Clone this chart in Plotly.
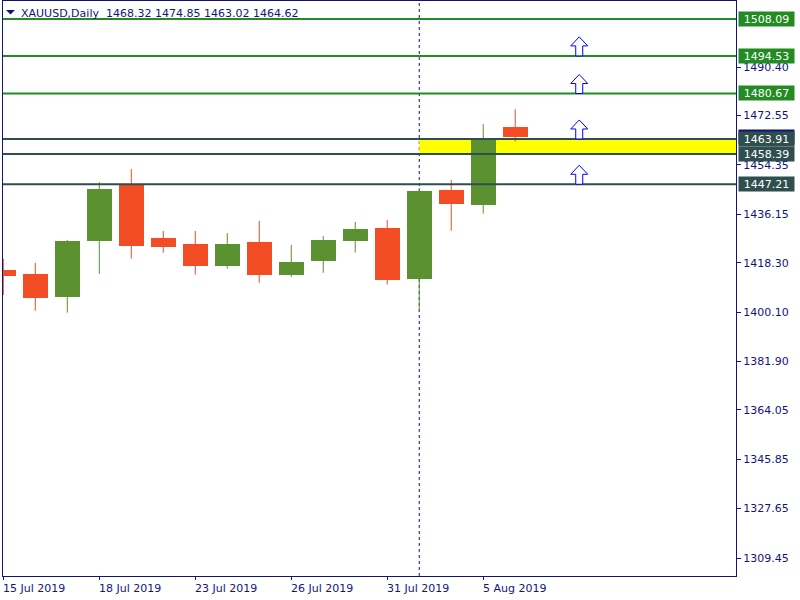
import plotly.graph_objects as go

# ---------------- data ----------------
symbol_title = "XAUUSD,Daily"
header_ohlc = ["1468.32", "1474.85", "1463.02", "1464.62"]

dates = ["15 Jul", "16 Jul", "17 Jul", "18 Jul", "19 Jul", "22 Jul", "23 Jul",
         "24 Jul", "25 Jul", "26 Jul", "29 Jul", "30 Jul", "31 Jul", "1 Aug",
         "2 Aug", "5 Aug", "6 Aug"]
opens = [1415.6, 1414.1, 1405.8, 1426.4, 1446.9, 1427.4, 1425.2, 1417.2, 1425.9,
         1413.9, 1419.0, 1426.4, 1431.1, 1412.4, 1445.1, 1439.7, 1468.32]
highs = [1419.7, 1418.2, 1426.7, 1448.0, 1452.8, 1430.0, 1430.0, 1429.2, 1433.7,
         1424.8, 1428.1, 1433.3, 1434.0, 1445.8, 1448.8, 1469.4, 1474.85]
lows = [1406.4, 1400.6, 1399.9, 1414.2, 1419.8, 1422.0, 1413.9, 1416.1, 1410.9,
        1413.1, 1414.6, 1422.0, 1410.2, 1400.2, 1430.1, 1436.4, 1463.02]
closes = [1413.4, 1405.4, 1426.3, 1445.5, 1424.6, 1424.2, 1417.2, 1425.2, 1413.9,
          1418.5, 1426.7, 1430.7, 1412.0, 1444.7, 1440.0, 1463.6, 1464.62]

x_tick_dates = ["15 Jul 2019", "18 Jul 2019", "23 Jul 2019", "26 Jul 2019",
                "31 Jul 2019", "5 Aug 2019"]
x_tick_bars = ["15 Jul", "18 Jul", "23 Jul", "26 Jul", "31 Jul", "5 Aug"]

y_ticks = [1309.45, 1327.65, 1345.85, 1364.05, 1381.90, 1400.10, 1418.30,
           1436.15, 1454.35, 1472.55, 1490.40]

resistance_levels = [1508.09, 1494.53, 1480.67]
support_levels = [1463.91, 1458.39, 1447.21]
zone_low, zone_high = 1458.39, 1463.91
zone_start = "1 Aug"
vline_date = "1 Aug"
bid_price = 1464.62
arrow_levels = [1494.53, 1480.67, 1463.91, 1447.21]
arrow_bar = 18  # two bars after the last candle

# ---------------- styles ----------------
UP = "#5B9130"
DOWN = "#F34D26"
NAVY = "#141478"
GREEN_LINE = "#228B22"
DARK_LINE = "#2F4F4F"
FONT = "DejaVu Sans"

idx = {d: i for i, d in enumerate(dates)}
xs = list(range(len(dates)))

fig = go.Figure()

# bodies
body_base = [min(o, c) for o, c in zip(opens, closes)]
body_h = [max(abs(c - o), 0.3) for o, c in zip(opens, closes)]
body_col = [UP if c >= o else DOWN for o, c in zip(opens, closes)]
fig.add_trace(go.Bar(x=xs, y=body_h, base=body_base, width=0.78,
                     marker=dict(color=body_col, line=dict(width=0)),
                     hoverinfo="skip", showlegend=False))

# wicks
for col, cond in ((UP, True), (DOWN, False)):
    wx, wy = [], []
    for i, (o, h, l, c) in enumerate(zip(opens, highs, lows, closes)):
        if (c >= o) == cond:
            wx += [i, i, None]
            wy += [l, h, None]
    fig.add_trace(go.Scatter(x=wx, y=wy, mode="lines",
                             line=dict(color=col, width=1),
                             hoverinfo="skip", showlegend=False))

x_max = 22.9
y_min, y_max = 1302.82, 1514.76

shapes = []
# yellow zone
shapes.append(dict(type="rect", xref="x", yref="y", x0=idx[zone_start], x1=x_max,
                   y0=zone_low, y1=zone_high, fillcolor="#FFFF00",
                   line=dict(width=0), layer="below"))
# dashed vertical line
shapes.append(dict(type="line", xref="x", yref="paper", x0=idx[vline_date],
                   x1=idx[vline_date], y0=0, y1=1,
                   line=dict(color=NAVY, width=1, dash="3px,3px"), layer="below"))
# horizontal levels
for lv in resistance_levels:
    shapes.append(dict(type="line", xref="paper", yref="y", x0=0, x1=1, y0=lv, y1=lv,
                       line=dict(color=GREEN_LINE, width=2), layer="above"))
for lv in support_levels:
    shapes.append(dict(type="line", xref="paper", yref="y", x0=0, x1=1, y0=lv, y1=lv,
                       line=dict(color=DARK_LINE, width=2), layer="above"))
# up arrows (pixel-sized, anchored at data coords)
arrow_path = "M -3.5,0 L 3.5,0 L 3.5,10 L 8.5,10 L 0,19 L -8.5,10 L -3.5,10 Z"
for lv in arrow_levels:
    shapes.append(dict(type="path", xref="x", yref="y", xsizemode="pixel",
                       ysizemode="pixel", xanchor=arrow_bar, yanchor=lv,
                       path=arrow_path, fillcolor="white",
                       line=dict(color="#0000FF", width=1), layer="above"))
# header drop-down triangle
shapes.append(dict(type="path", xref="paper", yref="paper", xsizemode="pixel",
                   ysizemode="pixel", xanchor=0, yanchor=1,
                   path="M 3,-9 L 12,-9 L 7.5,-13.5 Z", fillcolor=NAVY,
                   line=dict(width=0), layer="above"))

annotations = []
# header
annotations.append(dict(xref="paper", yref="paper", x=0, y=1, xanchor="left",
                        yanchor="top", xshift=16, yshift=-4, showarrow=False,
                        text=symbol_title + "  " + " ".join(header_ohlc),
                        font=dict(family=FONT, size=11, color=NAVY)))
# x tick labels (left aligned at tick)
for lab, d in zip(x_tick_dates, x_tick_bars):
    annotations.append(dict(xref="x", yref="paper", x=idx[d], y=0, xanchor="left",
                            yanchor="top", xshift=-2, yshift=-4, showarrow=False,
                            text=lab, font=dict(family=FONT, size=11, color=NAVY)))
# price labels on right axis
def price_label(p, bg):
    return dict(xref="paper", yref="y", x=1, y=p, xanchor="left", yanchor="middle",
                xshift=2, showarrow=False, text=f"{p:.2f}", bgcolor=bg,
                width=53, height=12, borderpad=1, align="center",
                font=dict(family=FONT, size=11, color="white"))

annotations.append(price_label(bid_price, NAVY))
for lv in resistance_levels:
    annotations.append(price_label(lv, GREEN_LINE))
for lv in support_levels:
    annotations.append(price_label(lv, DARK_LINE))

fig.update_layout(
    width=800, height=600,
    margin=dict(l=3, r=64, t=1, b=24, autoexpand=False),
    paper_bgcolor="white", plot_bgcolor="white",
    showlegend=False, barmode="overlay", bargap=0,
    shapes=shapes, annotations=annotations,
    font=dict(family=FONT, size=11, color=NAVY),
    xaxis=dict(range=[-0.01, x_max], showgrid=False, zeroline=False,
               showline=True, mirror=True, linecolor=NAVY, linewidth=1,
               tickmode="array", tickvals=[idx[d] for d in x_tick_bars],
               showticklabels=False, ticks="outside", ticklen=3,
               tickcolor=NAVY, fixedrange=True),
    yaxis=dict(range=[y_min, y_max], side="right", showgrid=False, zeroline=False,
               showline=True, mirror=True, linecolor=NAVY, linewidth=1,
               tickmode="array", tickvals=y_ticks,
               ticktext=[f"{v:.2f}" for v in y_ticks],
               ticks="outside", ticklen=4, tickcolor=NAVY,
               tickfont=dict(family=FONT, size=11, color=NAVY), fixedrange=True,
               automargin=False),
)

fig.write_html(
    "out.html",
    config={"displayModeBar": False},
    post_script="document.body.style.margin='0';document.body.style.overflow='hidden';",
)
